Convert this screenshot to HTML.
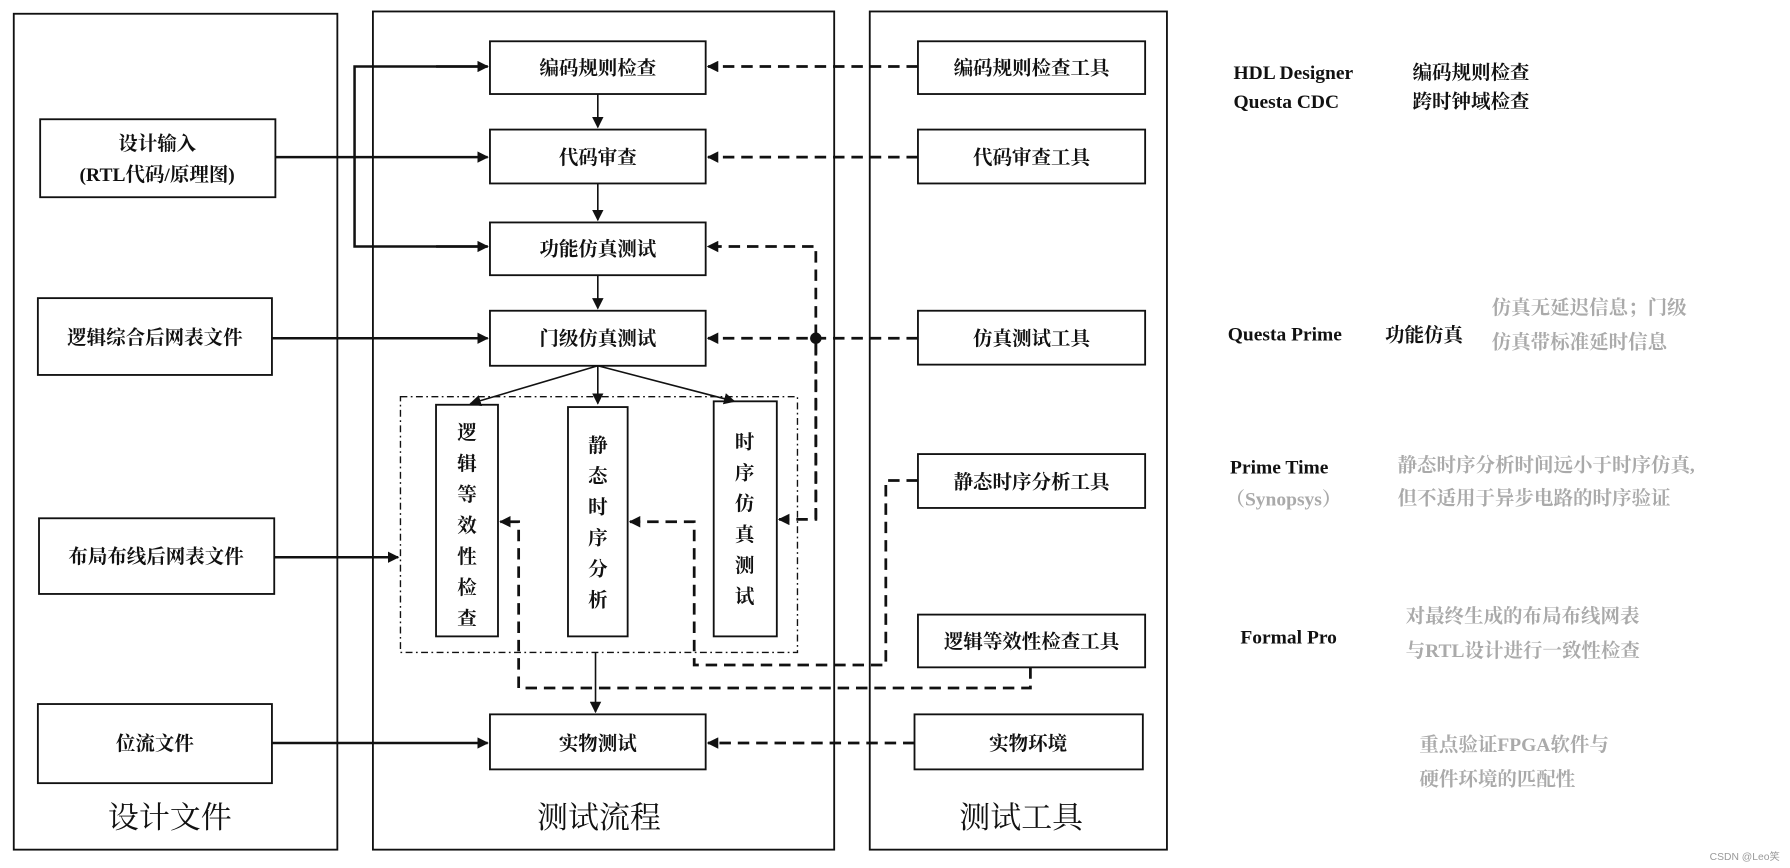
<!DOCTYPE html>
<html><head><meta charset="utf-8"><style>
html,body{margin:0;padding:0;background:#fff}
svg{display:block}
text{font-family:"Liberation Serif","Noto Serif CJK SC","Noto Sans CJK SC",serif;}
.b{font-weight:bold;font-size:17px;fill:#111}
.g{font-weight:bold;font-size:17px;fill:#aaa}
.t{font-weight:bold;font-size:17px;fill:#111}
</style></head><body>
<svg width="1790" height="868" viewBox="0 0 1560 757" preserveAspectRatio="none" xmlns="http://www.w3.org/2000/svg">
<defs>
<marker id="a" markerWidth="10" markerHeight="10" refX="9" refY="5" orient="auto" markerUnits="userSpaceOnUse"><path d="M0,0 L10,5 L0,10 z" fill="#111"/></marker>
</defs>
<rect width="1560" height="757" fill="#fff"/>
<g fill="none" stroke="#111" stroke-width="1.6">
<rect x="12" y="12" width="282" height="729"/>
<rect x="325" y="10" width="402" height="731"/>
<rect x="758" y="10" width="259" height="731"/>
<rect x="35" y="104" width="205" height="68"/>
<rect x="33" y="260" width="204" height="67"/>
<rect x="34" y="452" width="205" height="66"/>
<rect x="33" y="614" width="204" height="69"/>
<rect x="427" y="36" width="188" height="46"/>
<rect x="427" y="113" width="188" height="47"/>
<rect x="427" y="194" width="188" height="46"/>
<rect x="427" y="271" width="188" height="48"/>
<rect x="427" y="623" width="188" height="48"/>
<rect x="380" y="353" width="54" height="202"/>
<rect x="495" y="355" width="52" height="200"/>
<rect x="622" y="350" width="55" height="205"/>
<rect x="800" y="36" width="198" height="46"/>
<rect x="800" y="113" width="198" height="47"/>
<rect x="800" y="271" width="198" height="47"/>
<rect x="800" y="396" width="198" height="47"/>
<rect x="800" y="536" width="198" height="46"/>
<rect x="797" y="623" width="199" height="48"/>
</g>
<rect x="349" y="346" width="346" height="223" fill="none" stroke="#111" stroke-width="1.2" stroke-dasharray="6,3,1.5,3"/>
<g fill="none" stroke="#111" stroke-width="2.2">
<path d="M240,137 H425" marker-end="url(#a)"/>
<path d="M425,58 H309 V215 H425" />
<path d="M380,58 H425" marker-end="url(#a)"/>
<path d="M380,215 H425" marker-end="url(#a)"/>
<path d="M237,295 H425" marker-end="url(#a)"/>
<path d="M239,486 H347" marker-end="url(#a)"/>
<path d="M237,648 H425" marker-end="url(#a)"/>
</g>
<g fill="none" stroke="#111" stroke-width="1.4">
<path d="M521,82 V111" marker-end="url(#a)"/>
<path d="M521,160 V192" marker-end="url(#a)"/>
<path d="M521,240 V269" marker-end="url(#a)"/>
<path d="M521,319 L410,352" marker-end="url(#a)"/>
<path d="M521,319 V352" marker-end="url(#a)"/>
<path d="M521,319 L640,350" marker-end="url(#a)"/>
<path d="M519,569 V621" marker-end="url(#a)"/>
</g>
<g fill="none" stroke="#111" stroke-width="2.4" stroke-dasharray="10,6">
<path d="M800,58 H617" marker-end="url(#a)"/>
<path d="M800,137 H617" marker-end="url(#a)"/>
<path d="M800,295 H617" marker-end="url(#a)"/>
<path d="M797,648 H617" marker-end="url(#a)"/>
<path d="M711,453 V215 H617" marker-end="url(#a)"/>
<path d="M711,300 V453 H679" marker-end="url(#a)"/>
<path d="M800,419 H772 V580 H605 V455 H549" marker-end="url(#a)"/>
<path d="M898,582 V600 H452 V455 H436" marker-end="url(#a)"/>
</g>
<circle cx="711" cy="295" r="5" fill="#111"/>
<g class="b" text-anchor="middle">
<text x="137" y="131">设计输入</text>
<text x="137" y="158">(RTL代码/原理图)</text>
<text x="135" y="300">逻辑综合后网表文件</text>
<text x="136" y="491">布局布线后网表文件</text>
<text x="135" y="654">位流文件</text>
<text x="521" y="65">编码规则检查</text>
<text x="521" y="143">代码审查</text>
<text x="521" y="223">功能仿真测试</text>
<text x="521" y="301">门级仿真测试</text>
<text x="521" y="654">实物测试</text>
<text x="899" y="65">编码规则检查工具</text>
<text x="899" y="143">代码审查工具</text>
<text x="899" y="301">仿真测试工具</text>
<text x="899" y="426">静态时序分析工具</text>
<text x="899" y="565">逻辑等效性检查工具</text>
<text x="896" y="654">实物环境</text>
</g>
<g class="b" text-anchor="middle">
<text x="407" y="383">逻</text><text x="407" y="410">辑</text><text x="407" y="437">等</text><text x="407" y="464">效</text><text x="407" y="491">性</text><text x="407" y="518">检</text><text x="407" y="545">查</text>
<text x="521" y="394">静</text><text x="521" y="421">态</text><text x="521" y="448">时</text><text x="521" y="475">序</text><text x="521" y="502">分</text><text x="521" y="529">析</text>
<text x="649" y="391">时</text><text x="649" y="418">序</text><text x="649" y="445">仿</text><text x="649" y="472">真</text><text x="649" y="499">测</text><text x="649" y="526">试</text>
</g>
<g text-anchor="middle" style="font-size:27px;fill:#111;font-family:'Noto Sans CJK SC',sans-serif">
<text x="148" y="722">设计文件</text>
<text x="522" y="722">测试流程</text>
<text x="890" y="722">测试工具</text>
</g>
<text class="t" x="1075" y="69">HDL Designer</text>
<text class="t" x="1231" y="69">编码规则检查</text>
<text class="t" x="1075" y="94">Questa CDC</text>
<text class="t" x="1231" y="94">跨时钟域检查</text>
<text class="t" x="1070" y="297">Questa Prime</text>
<text class="t" x="1207" y="298">功能仿真</text>
<text class="g" x="1300" y="274">仿真无延迟信息；门级</text>
<text class="g" x="1300" y="304">仿真带标准延时信息</text>
<text class="t" x="1072" y="413">Prime Time</text>
<text class="g" x="1068" y="441">（Synopsys）</text>
<text class="g" x="1218" y="411">静态时序分析时间远小于时序仿真,</text>
<text class="g" x="1218" y="440">但不适用于异步电路的时序验证</text>
<text class="t" x="1081" y="561">Formal Pro</text>
<text class="g" x="1225" y="543">对最终生成的布局布线网表</text>
<text class="g" x="1225" y="573">与RTL设计进行一致性检查</text>
<text class="g" x="1237" y="655">重点验证FPGA软件与</text>
<text class="g" x="1237" y="685">硬件环境的匹配性</text>
<text x="1490" y="750" style="font-family:'Liberation Sans','Noto Sans CJK SC',sans-serif;font-size:9px;fill:#999">CSDN @Leo笑</text>
</svg>
</body></html>
